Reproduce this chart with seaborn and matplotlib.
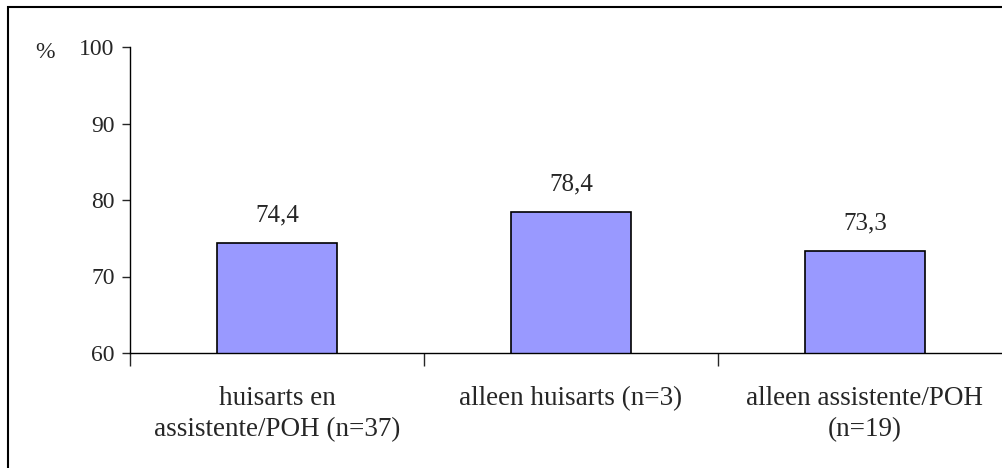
import numpy as np
import pandas as pd
import matplotlib
matplotlib.use("Agg")
import matplotlib.pyplot as plt
from matplotlib.patches import Rectangle
import seaborn as sns

# data
categories = ["huisarts en\nassistente/POH (n=37)",
              "alleen huisarts (n=3)",
              "alleen assistente/POH\n(n=19)"]
values = [74.4, 78.4, 73.3]
value_labels = ["74,4", "78,4", "73,3"]
y_ticks = [60, 70, 80, 90, 100]

df = pd.DataFrame({"groep": categories, "pct": values})

sns.set_style("white")
plt.rcParams['font.family'] = ['Liberation Serif', 'DejaVu Serif']

fig = plt.figure(figsize=(10.03, 4.68), dpi=100)
ax = fig.add_axes([130/1003, 1 - 353/468, 882/1003, 306/468])

sns.barplot(data=df, x="groep", y="pct", color="#9999FF", saturation=1,
            edgecolor="black", linewidth=1.2, width=0.41, ax=ax)

ax.set_ylim(60, 100)
ax.set_xlim(-0.5, 2.5)
ax.set_yticks(y_ticks)
ax.set_yticklabels([str(t) for t in y_ticks], fontsize=17)
ax.tick_params(axis="y", direction="out", length=6, width=1, pad=5, left=True)

# category labels centred, tick marks between categories
ax.set_xticks(range(len(categories)))
ax.set_xticklabels(categories, fontsize=19.5, linespacing=1.3)
ax.tick_params(axis="x", length=0, pad=24)
ax.set_xticks([-0.5, 0.5, 1.5], minor=True)
ax.tick_params(axis="x", which="minor", direction="out", length=9, width=1, bottom=True)
ax.set_xlabel("")
ax.set_ylabel("")

for s in ["top", "right"]:
    ax.spines[s].set_visible(False)
for s in ["left", "bottom"]:
    ax.spines[s].set_color("black")
    ax.spines[s].set_linewidth(1)

for i, (v, lab) in enumerate(zip(values, value_labels)):
    ax.annotate(lab, (i, v), xytext=(0, 12), textcoords="offset points",
                ha="center", va="bottom", fontsize=18)

fig.text(45/1003, 1 - 52/468, "%", fontsize=17, ha="center", va="center")

# outer frame around the chart
fig.patches.append(Rectangle((8/1003, -0.05), 1.1, 0.05 + (1 - 7/468),
                             transform=fig.transFigure, fill=False,
                             edgecolor="black", linewidth=1.5))

fig.savefig("out.png", dpi=100)
